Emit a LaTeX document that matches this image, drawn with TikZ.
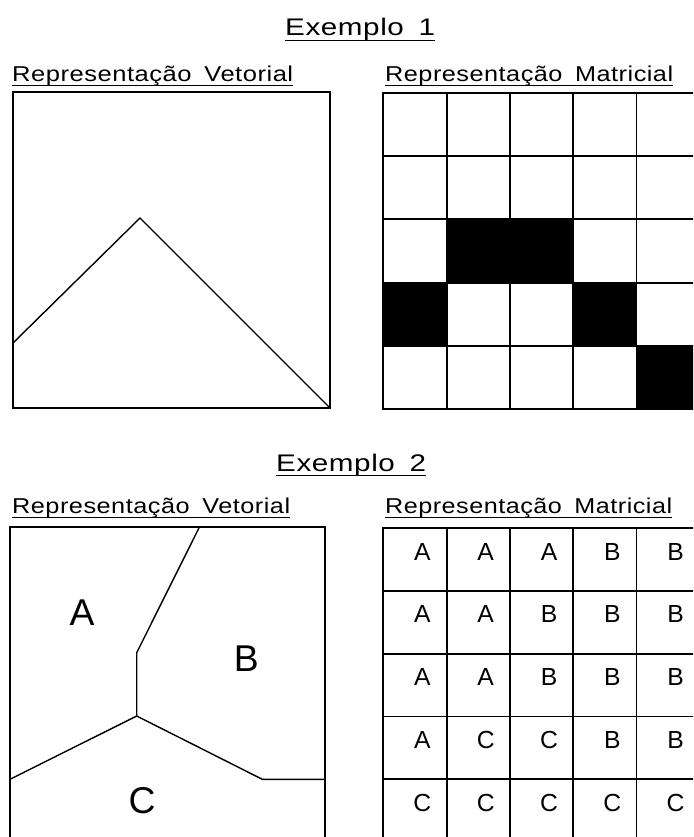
\documentclass[tikz,border=0pt]{standalone}
\usepackage{fontspec}
\setmainfont{Liberation Sans}
\newfontfamily\cadfont{Liberation Sans}[LetterSpace=2]
\begin{document}
\begin{tikzpicture}[x=1pt,y=-1pt,
  title/.style={inner sep=0pt, anchor=base west, font=\cadfont\fontsize{24}{28}\selectfont},
  head/.style={inner sep=0pt, anchor=base west, font=\cadfont\fontsize{21.5}{25}\selectfont},
  uline/.style={line width=1.4pt},
  frame/.style={line width=1.8pt},
  gridline/.style={line width=1.8pt, line cap=rect},
  poly/.style={line width=1.4pt, line join=miter},
  cell/.style={inner sep=0pt, anchor=base, font=\fontsize{24.7}{28}\selectfont},
  region/.style={inner sep=0pt, anchor=base, font=\fontsize{37.3}{40}\selectfont}]

\path[use as bounding box] (0,0) rectangle (693,837);
\clip (0,0) rectangle (693,837);
\fill[white] (0,0) rectangle (693,837);

% ---------- Exemplo 1 ----------
\node[title] (ex1) at (285,36) {\resizebox{150pt}{\height}{Exemplo\hspace{0.5em}1}};
\draw[uline] ([yshift=-4.7pt]ex1.base west) -- ([yshift=-4.7pt]ex1.base east);

\node[head] (rv1) at (12,81.5) {\resizebox{281pt}{\height}{Representação\hspace{0.5em}Vetorial}};
\draw[uline] ([yshift=-4.2pt]rv1.base west) -- ([yshift=-4.2pt]rv1.base east);

\node[head] (rm1) at (385,81.5) {\resizebox{288pt}{\height}{Representação\hspace{0.5em}Matricial}};
\draw[uline] ([yshift=-4.2pt]rm1.base west) -- ([yshift=-4.2pt]rm1.base east);

\draw[frame] (13,92) rectangle (330,408);
\draw[poly] (13,343) -- (140,218) -- (330,408);

\foreach \r/\c in {2/1,2/2,3/0,3/3,4/4}
  \fill (383.3+\c*63.3, 92.7+\r*63.3) rectangle ++(63.3,63.3);
\foreach \k in {0,...,5} {
  \draw[gridline] (383.3+\k*63.3,92.7) -- (383.3+\k*63.3,409.2);
  \draw[gridline] (383.3,92.7+\k*63.3) -- (699.8,92.7+\k*63.3);
}

% ---------- Exemplo 2 ----------
\node[title] (ex2) at (276,471) {\resizebox{150pt}{\height}{Exemplo\hspace{0.5em}2}};
\draw[uline] ([yshift=-4.7pt]ex2.base west) -- ([yshift=-4.7pt]ex2.base east);

\node[head] (rv2) at (12,513) {\resizebox{278pt}{\height}{Representação\hspace{0.5em}Vetorial}};
\draw[uline] ([yshift=-4.2pt]rv2.base west) -- ([yshift=-4.2pt]rv2.base east);

\node[head] (rm2) at (385,513) {\resizebox{287pt}{\height}{Representação\hspace{0.5em}Matricial}};
\draw[uline] ([yshift=-4.2pt]rm2.base west) -- ([yshift=-4.2pt]rm2.base east);

\draw[frame] (10,527.3) rectangle (325,860);
\draw[poly] (199.3,527.3) -- (136.7,652.7) -- (136.7,716);
\draw[poly] (10,779.3) -- (136.7,716) -- (262.3,779.3) -- (325,779.3);
\node[region] (la) at (82,625) {A};
\node[region] (lb) at (246.3,671.7) {B};
\node[region] (lc) at (142,813.3) {C};

\foreach \k in {0,...,5} {
  \draw[gridline] (383.3+\k*63.3,528.3) -- (383.3+\k*63.3,842);
}
\foreach \k in {0,...,5} {
  \draw[gridline] (383.3,528.3+\k*62.75) -- (699.8,528.3+\k*62.75);
}
\foreach \row [count=\r from 0] in {{A,A,A,B,B},{A,A,B,B,B},{A,A,B,B,B},{A,C,C,B,B},{C,C,C,C,C}}
  \foreach \L [count=\c from 0] in \row
    \node[cell] (g\r\c) at (383.3+\c*63.3+39.1, 528.3+\r*62.75+31.7) {\L};
\end{tikzpicture}
\end{document}
